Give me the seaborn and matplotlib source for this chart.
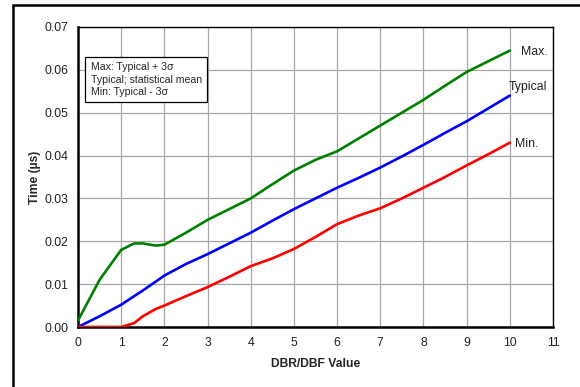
import matplotlib
matplotlib.use("Agg")
import matplotlib.pyplot as plt
import seaborn as sns
import pandas as pd
from matplotlib.patches import Rectangle

# values
x_vals = [0, 0.5, 1, 1.3, 1.5, 1.8, 2, 2.5, 3, 3.5, 4, 4.5, 5, 5.5, 6, 6.5, 7, 7.5, 8, 8.5, 9, 9.5, 10]
max_vals = [0.0015, 0.011, 0.018, 0.0195, 0.0195, 0.019, 0.0192, 0.022, 0.025, 0.0275, 0.030, 0.0333,
            0.0365, 0.039, 0.041, 0.044, 0.047, 0.050, 0.053, 0.0563, 0.0595, 0.062, 0.0645]
typ_vals = [0.0, 0.0025, 0.0052, 0.0072, 0.0085, 0.0106, 0.012, 0.0147, 0.017, 0.0195, 0.022, 0.0248,
            0.0275, 0.030, 0.0325, 0.0348, 0.0372, 0.0398, 0.0425, 0.0453, 0.048, 0.051, 0.054]
min_vals = [0.0, 0.0, 0.0, 0.0009, 0.0025, 0.0042, 0.005, 0.0072, 0.0093, 0.0117, 0.0142, 0.016,
            0.0182, 0.021, 0.024, 0.026, 0.0277, 0.030, 0.0325, 0.035, 0.0377, 0.0403, 0.043]

series_names = ["Max.", "Typical", "Min."]
series_colors = ["#008000", "#0000ff", "#ff0000"]
label_pos = [(10.25, 0.0642), (9.97, 0.0560), (10.12, 0.0427)]

df = pd.DataFrame({"x": x_vals * 3,
                   "y": max_vals + typ_vals + min_vals,
                   "series": sum([[n] * len(x_vals) for n in series_names], [])})

sns.set_style("white")
plt.rcParams["font.family"] = ["Liberation Sans", "DejaVu Sans"]

fig = plt.figure(figsize=(5.8, 3.87), dpi=100)
ax = fig.add_axes([78 / 580, 1 - 327 / 387, 475 / 580, 300 / 387])

sns.lineplot(data=df, x="x", y="y", hue="series", palette=dict(zip(series_names, series_colors)),
             linewidth=1.9, legend=False, ax=ax, zorder=3)

ax.set_xlim(0, 11)
ax.set_ylim(0, 0.07)
ax.set_xticks(range(0, 12))
ax.set_yticks([i / 100 for i in range(8)])
ax.set_yticklabels([f"{i / 100:.2f}" for i in range(8)])
ax.grid(True, color="#a8a8a8", linewidth=0.9)
ax.tick_params(labelsize=8.8, length=0, pad=7, colors="#222222")
for side in ["left", "bottom"]:
    ax.spines[side].set_linewidth(1.8)
    ax.spines[side].set_color("black")
for side in ["top", "right"]:
    ax.spines[side].set_linewidth(1.0)
    ax.spines[side].set_color("black")
ax.set_xlabel("DBR/DBF Value", fontsize=8.7, fontweight="bold", labelpad=7)
ax.set_ylabel("Time (µs)", fontsize=8.7, fontweight="bold", labelpad=2)

for name, (lx, ly) in zip(series_names, label_pos):
    ax.text(lx, ly, name, fontsize=8.8, va="center", ha="left", color="#222222")

ax.text(0.29, 0.0618, "Max: Typical + 3σ\nTypical; statistical mean\nMin: Typical - 3σ",
        fontsize=7.6, va="top", ha="left", linespacing=1.3,
        bbox=dict(boxstyle="square,pad=0.5", facecolor="white", edgecolor="black", linewidth=0.9))

fig.patches.append(Rectangle((12.5 / 580, -0.1), 1.2, 1 - 5 / 387 + 0.1, transform=fig.transFigure,
                             fill=False, edgecolor="black", linewidth=1.8))

fig.savefig("out.png", dpi=100)
